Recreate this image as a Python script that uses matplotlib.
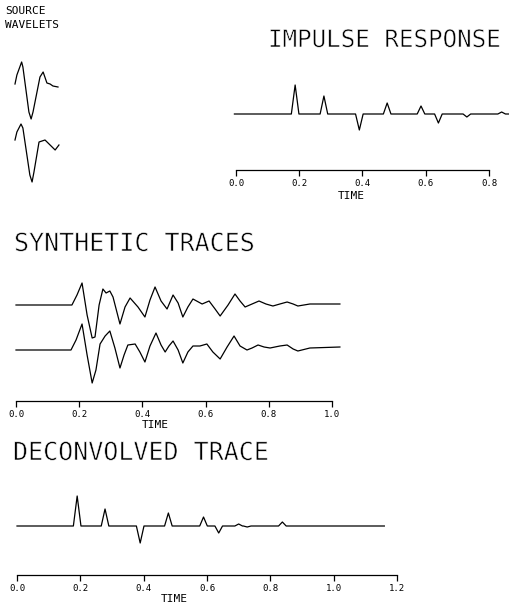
import numpy as np
import matplotlib
matplotlib.use("Agg")
import matplotlib.pyplot as plt
import matplotlib.patheffects as pe

plt.rcParams['font.family'] = ['DejaVu Sans Mono']

W, H = 510, 605

# source wavelets (time s, amplitude)
w1_t = [0.000, 0.006, 0.021, 0.025, 0.044, 0.051, 0.057, 0.079, 0.089, 0.101, 0.111, 0.120, 0.136]
w1_a = [0.01, 0.10, 0.23, 0.18, -0.27, -0.34, -0.27, 0.08, 0.13, 0.02, 0.01, -0.01, -0.02]
w2_t = [0.000, 0.006, 0.019, 0.025, 0.047, 0.054, 0.060, 0.076, 0.095, 0.111, 0.127, 0.139]
w2_a = [0.01, 0.09, 0.17, 0.13, -0.34, -0.41, -0.31, -0.01, 0.01, -0.04, -0.09, -0.04]

# impulse response: reflection times and coefficients
refl_t = [0.187, 0.278, 0.390, 0.478, 0.585, 0.640, 0.730, 0.840]
refl_a = [0.29, 0.18, -0.16, 0.11, 0.08, -0.09, -0.03, 0.02]

# synthetic traces
s1_t = [0.000, 0.177, 0.193, 0.209, 0.225, 0.241, 0.250, 0.263, 0.275, 0.285, 0.297, 0.307,
        0.329, 0.345, 0.361, 0.386, 0.408, 0.424, 0.440, 0.459, 0.478, 0.497, 0.513, 0.528,
        0.544, 0.560, 0.589, 0.611, 0.630, 0.646, 0.671, 0.693, 0.709, 0.725, 0.747, 0.769,
        0.791, 0.813, 0.835, 0.858, 0.877, 0.892, 0.930, 1.025]
s1_a = [0.00, 0.00, 0.10, 0.22, -0.10, -0.33, -0.32, 0.00, 0.16, 0.12, 0.14, 0.08,
        -0.19, -0.02, 0.07, -0.02, -0.12, 0.05, 0.18, 0.04, -0.04, 0.10, 0.02, -0.12,
        -0.02, 0.06, 0.01, 0.04, -0.04, -0.11, 0.00, 0.11, 0.04, -0.02, 0.01, 0.04,
        0.01, -0.01, 0.01, 0.03, 0.01, -0.01, 0.01, 0.01]
s2_t = [0.000, 0.174, 0.190, 0.209, 0.225, 0.241, 0.253, 0.266, 0.282, 0.297, 0.313, 0.329,
        0.342, 0.354, 0.377, 0.392, 0.408, 0.424, 0.443, 0.459, 0.472, 0.484, 0.497, 0.513,
        0.528, 0.544, 0.560, 0.582, 0.604, 0.623, 0.646, 0.668, 0.690, 0.709, 0.731, 0.747,
        0.766, 0.785, 0.804, 0.835, 0.858, 0.877, 0.892, 0.930, 1.025]
s2_a = [0.00, 0.00, 0.10, 0.26, -0.05, -0.33, -0.20, 0.06, 0.14, 0.19, 0.02, -0.18,
        -0.05, 0.05, 0.06, -0.02, -0.12, 0.04, 0.17, 0.05, -0.02, 0.04, 0.09, 0.00,
        -0.13, -0.02, 0.04, 0.04, 0.06, -0.02, -0.09, 0.03, 0.14, 0.04, 0.00, 0.02,
        0.05, 0.03, 0.02, 0.04, 0.05, 0.01, -0.01, 0.02, 0.03]

# deconvolved trace: spike times and amplitudes
dec_t = [0.190, 0.278, 0.389, 0.478, 0.589, 0.637, 0.700, 0.727, 0.838]
dec_a = [0.30, 0.17, -0.17, 0.13, 0.09, -0.07, 0.02, -0.01, 0.04]

ticks_ir = [0.0, 0.2, 0.4, 0.6, 0.8]
ticks_syn = [0.0, 0.2, 0.4, 0.6, 0.8, 1.0]
ticks_dec = [0.0, 0.2, 0.4, 0.6, 0.8, 1.0, 1.2]

# thin the glyphs a little, plotter lettering is a single pen stroke
thin = [pe.Stroke(linewidth=0.45, foreground='white')]


def spike_trace(times, amps, t0, t1, hw=0.012):
    xs, ys = [t0], [0.0]
    for t, a in zip(times, amps):
        xs += [t - hw, t, t + hw]
        ys += [0.0, a, 0.0]
    xs.append(t1)
    ys.append(0.0)
    return xs, ys


def px_axes(fig, left, right, top, bottom):
    return fig.add_axes([left / W, 1 - bottom / H, (right - left) / W, (bottom - top) / H])


def time_axis(ax, ticks, label_x, label_y):
    for s in ['top', 'left', 'right']:
        ax.spines[s].set_visible(False)
    ax.spines['bottom'].set_linewidth(0.9)
    ax.set_yticks([])
    ax.set_xticks(ticks)
    ax.set_xticklabels(['%.1f' % t for t in ticks], fontsize=6.5)
    ax.tick_params(axis='x', direction='out', length=4.5, width=0.9, pad=2)
    ax.set_xlabel('TIME', fontsize=8)
    ax.xaxis.set_label_coords(label_x, label_y)
    ax.patch.set_alpha(0)


fig = plt.figure(figsize=(W / 100, H / 100), dpi=100)

# titles
fig.text(5 / W, 1 - 11.5 / H, 'SOURCE', fontsize=8, ha='left', va='center')
fig.text(5 / W, 1 - 24.5 / H, 'WAVELETS', fontsize=8, ha='left', va='center')
fig.text(268 / W, 1 - 40 / H, 'IMPULSE RESPONSE', fontsize=17.4, ha='left', va='center',
         path_effects=thin)
fig.text(14 / W, 1 - 244 / H, 'SYNTHETIC TRACES', fontsize=18, ha='left', va='center',
         path_effects=thin)
fig.text(13 / W, 1 - 453 / H, 'DECONVOLVED TRACE', fontsize=18, ha='left', va='center',
         path_effects=thin)

# source wavelets
ax = px_axes(fig, 10, 70, 50, 195)
ax.plot(w1_t, w1_a, color='black', lw=0.9)
ax.plot(w2_t, np.array(w2_a) - 0.56, color='black', lw=0.9)
ax.set_xlim(-0.0158, 0.174)
ax.set_ylim(-1.10, 0.35)
ax.axis('off')

# impulse response
ax = px_axes(fig, 236, 489, 60, 170)
x, y = spike_trace(refl_t, refl_a, -0.005, 0.865)
ax.plot(x, y, color='black', lw=0.9, clip_on=False)
ax.set_xlim(0, 0.8)
ax.set_ylim(-0.56, 0.54)
time_axis(ax, ticks_ir, 0.455, -0.19)

# synthetic traces
ax = px_axes(fig, 16, 332, 265, 401)
ax.plot(s1_t, s1_a, color='black', lw=0.9, clip_on=False)
ax.plot(s2_t, np.array(s2_a) - 0.45, color='black', lw=0.9, clip_on=False)
ax.set_xlim(0, 1.0)
ax.set_ylim(-0.96, 0.40)
time_axis(ax, ticks_syn, 0.44, -0.14)

# deconvolved trace
ax = px_axes(fig, 17, 397, 480, 575)
x, y = spike_trace(dec_t, dec_a, 0.0, 1.16)
ax.plot(x, y, color='black', lw=0.9, clip_on=False)
ax.set_xlim(0, 1.2)
ax.set_ylim(-0.49, 0.46)
time_axis(ax, ticks_dec, 0.413, -0.2)

fig.savefig('out.png', dpi=100)
